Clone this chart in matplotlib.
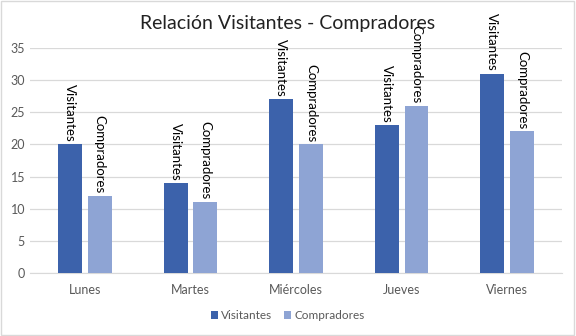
import numpy as np
import matplotlib.pyplot as plt
from matplotlib.patches import Rectangle

# Datos
dias = ['Lunes', 'Martes', 'Miércoles', 'Jueves', 'Viernes']
visitantes = [20, 14, 27, 23, 31]
compradores = [12, 11, 20, 26, 22]

color_vis = '#3C62AB'
color_comp = '#8EA4D4'

plt.rcParams['font.family'] = ['Lato', 'DejaVu Sans']

fig = plt.figure(figsize=(5.76, 3.36), dpi=100)
ax = fig.add_axes([0.052, 0.1875, 0.924, 0.67])

x = np.arange(len(dias))
ancho = 0.226
desp = 0.141

b1 = ax.bar(x - desp, visitantes, ancho, color=color_vis, label='Visitantes', zorder=3)
b2 = ax.bar(x + desp, compradores, ancho, color=color_comp, label='Compradores', zorder=3)

# etiquetas rotadas encima de cada barra
for barras, nombre in [(b1, 'Visitantes'), (b2, 'Compradores')]:
    for r in barras:
        ax.text(r.get_x() + r.get_width() / 2, r.get_height() + 0.4, nombre,
                rotation=-90, ha='center', va='bottom', fontsize=9.5, color='black')

ax.set_ylim(0, 35)
ax.set_xlim(-0.52, len(dias) - 0.48)
ax.set_yticks(range(0, 36, 5))
ax.set_xticks(x)
ax.set_xticklabels(dias)
ax.tick_params(axis='both', length=0, labelsize=9, labelcolor='#595959')
ax.tick_params(axis='x', pad=8)
ax.grid(axis='y', color='#D9D9D9', linewidth=0.9, zorder=0)
for s in ['top', 'right', 'left']:
    ax.spines[s].set_visible(False)
ax.spines['bottom'].set_color('#D9D9D9')

fig.text(0.5, 0.93, 'Relación Visitantes - Compradores', ha='center', va='center',
         fontsize=14, color='#222222')

fig.legend(loc='center', bbox_to_anchor=(0.5, 0.06), ncol=2, frameon=False,
           fontsize=8.5, labelcolor='#595959', handlelength=0.6, handleheight=0.6,
           handletextpad=0.3, columnspacing=1.0)

# borde del gráfico
fig.patches.append(Rectangle((0.002, 0.003), 0.995, 0.993, transform=fig.transFigure,
                             fill=False, edgecolor='#D9D9D9', linewidth=1))

fig.savefig('out.png', dpi=100)
